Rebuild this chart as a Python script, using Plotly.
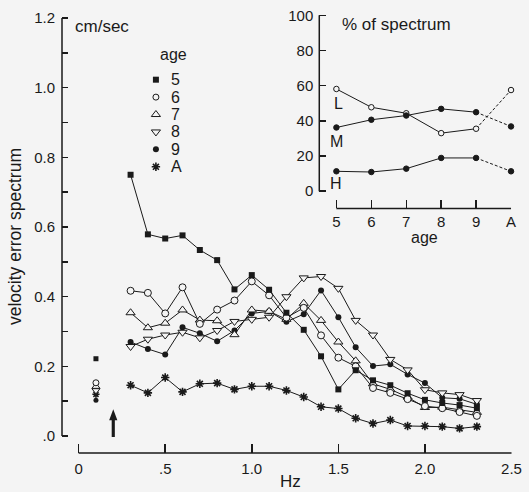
import plotly.graph_objects as go

# ---------------- data ----------------
freqs = [0.3, 0.4, 0.5, 0.6, 0.7, 0.8, 0.9, 1.0, 1.1, 1.2, 1.3,
         1.4, 1.5, 1.6, 1.7, 1.8, 1.9, 2.0, 2.1, 2.2, 2.3]

age5 = [0.750, 0.579, 0.567, 0.576, 0.534, 0.505, 0.421, 0.462, 0.420, 0.354, 0.305,
        0.229, 0.134, 0.189, 0.160, 0.146, 0.123, 0.104, 0.095, 0.089, 0.080]
age6 = [0.417, 0.411, 0.352, 0.427, 0.322, 0.363, 0.389, 0.444, 0.404, 0.340, 0.368,
        0.289, 0.225, 0.200, 0.138, 0.124, 0.106, 0.086, 0.080, 0.069, 0.058]
age7 = [0.354, 0.311, 0.324, 0.362, 0.333, 0.331, 0.291, 0.362, 0.358, 0.335, 0.381,
        0.332, 0.270, 0.216, 0.150, 0.134, 0.112, 0.082, 0.083, 0.076, 0.068]
age8 = [0.257, 0.278, 0.290, 0.298, 0.282, 0.303, 0.329, 0.335, 0.341, 0.400, 0.454,
        0.458, 0.424, 0.332, 0.290, 0.220, 0.190, 0.133, 0.124, 0.119, 0.102]
age9 = [0.270, 0.250, 0.234, 0.312, 0.295, 0.272, 0.303, 0.352, 0.358, 0.328, 0.350,
        0.418, 0.341, 0.255, 0.201, 0.206, 0.177, 0.152, 0.110, 0.107, 0.091]
ageA = [0.146, 0.124, 0.168, 0.127, 0.150, 0.152, 0.134, 0.143, 0.143, 0.131, 0.112,
        0.084, 0.079, 0.051, 0.036, 0.046, 0.029, 0.029, 0.027, 0.022, 0.027]

# isolated values at 0.1 Hz
low_freq = 0.1
low_vals = {"5": 0.222, "6": 0.153, "7": 0.142, "8": 0.131, "A": 0.120, "9": 0.103}

age_labels = ["5", "6", "7", "8", "9", "A"]

# inset: % of spectrum
inset_cats = ["5", "6", "7", "8", "9", "A"]
pct_L = [58.1, 47.7, 44.3, 33.0, 35.5, 57.5]
pct_M = [36.2, 40.6, 43.0, 46.8, 44.9, 36.8]
pct_H = [11.3, 10.9, 12.8, 18.9, 18.9, 11.3]

main_ytick_vals = [0.0, 0.1, 0.2, 0.3, 0.4, 0.5, 0.6, 0.7, 0.8, 0.9, 1.0, 1.1, 1.2]
main_ytick_text = [".0", "", "0.2", "", "0.4", "", "0.6", "", "0.8", "", "1.0", "", "1.2"]
main_xtick_vals = [0, 0.5, 1.0, 1.5, 2.0, 2.5]
main_xtick_text = ["0", ".5", "1.0", "1.5", "2.0", "2.5"]
inset_ytick_vals = [0, 20, 40, 60, 80, 100]

# ---------------- style ----------------
INK = "#1a1a1a"
BG = "#f4f4f4"
FONT = "Liberation Sans, Arial, Helvetica, sans-serif"

W, H = 529, 492
ML, MR, MT, MB = 62, 7, 8, 39
PW, PH = W - ML - MR, H - MT - MB


def hz(px):
    return (px - 79) / 177.0


def val(py):
    return (436 - py) / 350.0


def paper_x(px):
    return (px - ML) / PW


def paper_y(py):
    return (H - MB - py) / PH


sym = {
    "5": dict(symbol="square", size=6, color=INK, line=dict(color=INK, width=0)),
    "6": dict(symbol="circle", size=7, color=BG, line=dict(color=INK, width=1)),
    "7": dict(symbol="triangle-up", size=8, color=BG, line=dict(color=INK, width=1)),
    "8": dict(symbol="triangle-down", size=8, color=BG, line=dict(color=INK, width=1)),
    "9": dict(symbol="circle", size=6, color=INK, line=dict(color=INK, width=0)),
    "A": dict(symbol="asterisk-open", size=7, color=INK, line=dict(color=INK, width=1.6)),
}

series = {"5": age5, "6": age6, "7": age7, "8": age8, "9": age9, "A": ageA}

fig = go.Figure()

draw_order = ["A", "9", "8", "7", "6", "5"]
for k in draw_order:
    fig.add_trace(go.Scatter(
        x=freqs, y=series[k], mode="lines+markers",
        line=dict(color=INK, width=1), marker=sym[k],
        showlegend=False, cliponaxis=False, xaxis="x", yaxis="y"))

# isolated 0.1 Hz points
for k in ["5", "9", "A", "8", "7", "6"]:
    m = dict(sym[k])
    m["size"] = max(m["size"] - 1, 5)
    fig.add_trace(go.Scatter(x=[low_freq], y=[low_vals[k]], mode="markers",
                             marker=m, showlegend=False, xaxis="x", yaxis="y"))

# hand-made legend (markers)
leg_x = hz(158)
leg_rows_py = [78, 95.5, 113, 130.5, 148, 165.5]
for k, py in zip(age_labels, leg_rows_py):
    m = dict(sym[k])
    if k == "6":
        m["size"] = 6
    fig.add_trace(go.Scatter(x=[leg_x], y=[val(py)], mode="markers", marker=m,
                             showlegend=False, xaxis="x", yaxis="y"))

# inset traces
ix = list(range(len(inset_cats)))
for vals_, filled in [(pct_L, False), (pct_M, True), (pct_H, True)]:
    mk = dict(symbol="circle", size=5.5,
              color=INK if filled else BG, line=dict(color=INK, width=1))
    fig.add_trace(go.Scatter(x=ix[:5], y=vals_[:5], mode="lines",
                             line=dict(color=INK, width=1),
                             showlegend=False, xaxis="x2", yaxis="y2"))
    fig.add_trace(go.Scatter(x=ix[4:], y=vals_[4:], mode="lines",
                             line=dict(color=INK, width=1, dash="3px,2px"),
                             showlegend=False, xaxis="x2", yaxis="y2"))
    fig.add_trace(go.Scatter(x=ix, y=vals_, mode="markers", marker=mk,
                             showlegend=False, xaxis="x2", yaxis="y2", cliponaxis=False))

# ---------------- annotations ----------------
ann = []
ann.append(dict(text="cm/sec", x=hz(73), y=val(25), xref="x", yref="y",
                xanchor="left", yanchor="middle", showarrow=False,
                font=dict(size=17, color=INK)))
ann.append(dict(text="age", x=hz(176), y=val(53), xref="x", yref="y",
                xanchor="center", yanchor="middle", showarrow=False,
                font=dict(size=16, color=INK)))
for k, py in zip(age_labels, leg_rows_py):
    ann.append(dict(text=k, x=hz(171), y=val(py), xref="x", yref="y",
                    xanchor="left", yanchor="middle", showarrow=False,
                    font=dict(size=16, color=INK)))
ann.append(dict(text="Hz", x=paper_x(296), y=paper_y(482), xref="paper", yref="paper",
                xanchor="center", yanchor="middle", showarrow=False,
                font=dict(size=17, color=INK)))
ann.append(dict(text="velocity error spectrum", x=paper_x(14), y=paper_y(236),
                xref="paper", yref="paper", textangle=-90,
                xanchor="center", yanchor="middle", showarrow=False,
                font=dict(size=17.5, color=INK)))
# inset texts
ann.append(dict(text="% of spectrum", x=(346 - 342.5) / 35.7, y=(190 - 23) / 1.767,
                xref="x2", yref="y2", xanchor="left", yanchor="middle", showarrow=False,
                font=dict(size=17, color=INK)))
for t, px, py in [("L", 345, 102), ("M", 343, 140.5), ("H", 342.5, 182.5)]:
    ann.append(dict(text=t, x=(px - 342.5) / 35.7, y=(190 - py) / 1.767,
                    xref="x2", yref="y2", xanchor="center", yanchor="middle",
                    showarrow=False, font=dict(size=16, color=INK)))
ann.append(dict(text="age", x=paper_x(433), y=paper_y(237), xref="paper", yref="paper",
                xanchor="center", yanchor="middle", showarrow=False,
                font=dict(size=16, color=INK)))

# ---------------- shapes (offset axis lines, arrow) ----------------
shapes = [
    dict(type="line", xref="x domain", x0=0, x1=0, yref="y", y0=0, y1=1.2,
         line=dict(color=INK, width=1.5)),
    dict(type="line", xref="x", x0=0, x1=2.5, yref="y domain", y0=0, y1=0,
         line=dict(color=INK, width=1.5)),
    dict(type="line", xref="x2 domain", x0=0, x1=0, yref="y2", y0=0, y1=100,
         line=dict(color=INK, width=1.5)),
    dict(type="line", xref="x2", x0=0, x1=5, yref="y2 domain", y0=0, y1=0,
         line=dict(color=INK, width=1.5)),
]
ax_x = 0.2
tip = val(409)
shaft_hw = 1.6 / 177
head_hw = 4.2 / 177
head_len = 11 / 350
path = (f"M {ax_x - shaft_hw},{val(437)} L {ax_x - shaft_hw},{tip - head_len} "
        f"L {ax_x - head_hw},{tip - head_len} L {ax_x},{tip} "
        f"L {ax_x + head_hw},{tip - head_len} L {ax_x + shaft_hw},{tip - head_len} "
        f"L {ax_x + shaft_hw},{val(437)} Z")
shapes.append(dict(type="path", xref="x", yref="y", path=path,
                   fillcolor=INK, line=dict(color=INK, width=0)))

# ---------------- layout ----------------
inset_x_left, inset_x_right = 325, 522
inset_y_top, inset_y_bottom = MT, 207.3

fig.update_layout(
    width=W, height=H,
    margin=dict(l=ML, r=MR, t=MT, b=MB, pad=0),
    paper_bgcolor=BG, plot_bgcolor=BG,
    font=dict(family=FONT, color=INK, size=15),
    showlegend=False,
    xaxis=dict(domain=[0, 1], range=[hz(ML), hz(W - MR)],
               showline=False, showgrid=False, zeroline=False,
               ticks="inside", ticklen=9, tickwidth=1.5, tickcolor=INK,
               tickvals=main_xtick_vals, ticktext=main_xtick_text,
               tickfont=dict(size=15, color=INK), ticklabelstandoff=5),
    yaxis=dict(domain=[0, 1], range=[val(H - MB), val(MT)],
               showline=False, showgrid=False, zeroline=False,
               ticks="inside", ticklen=6, tickwidth=1.5, tickcolor=INK,
               tickvals=main_ytick_vals, ticktext=main_ytick_text,
               tickfont=dict(size=15, color=INK), ticklabelstandoff=6),
    xaxis2=dict(domain=[paper_x(inset_x_left), paper_x(inset_x_right)], anchor="y2",
                range=[(inset_x_left - 342.5) / 35.7, (inset_x_right - 342.5) / 35.7],
                showline=False, showgrid=False, zeroline=False,
                ticks="inside", ticklen=8, tickwidth=1.5, tickcolor=INK,
                tickvals=ix, ticktext=inset_cats,
                tickfont=dict(size=15, color=INK), ticklabelstandoff=3),
    yaxis2=dict(domain=[paper_y(inset_y_bottom), paper_y(inset_y_top)], anchor="x2",
                range=[(190 - inset_y_bottom) / 1.767, (190 - inset_y_top) / 1.767],
                showline=False, showgrid=False, zeroline=False,
                ticks="inside", ticklen=7, tickwidth=1.5, tickcolor=INK,
                tickvals=inset_ytick_vals,
                tickfont=dict(size=15, color=INK), ticklabelstandoff=5),
    annotations=ann,
    shapes=shapes,
)

fig.write_html(
    "out.html",
    config={"displayModeBar": False, "staticPlot": True},
    post_script="document.body.style.margin='0';document.body.style.padding='0';"
                "document.body.style.overflow='hidden';"
                "document.body.style.background='" + BG + "';",
)
